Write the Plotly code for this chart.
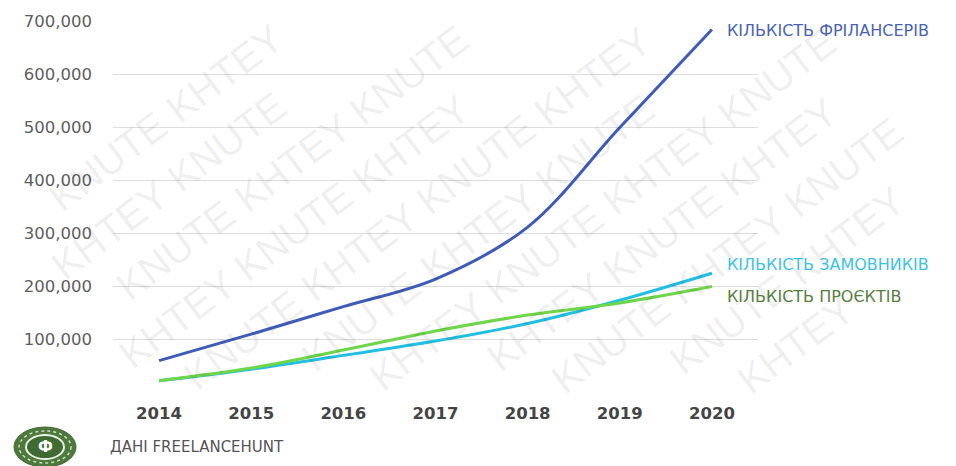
import math
import plotly.graph_objects as go

# Years and series values (number of accounts / projects on the platform)
years = ["2014", "2015", "2016", "2017", "2018", "2019", "2020"]
freelancers = [60000, 110000, 162000, 214000, 312000, 500000, 685000]
customers = [22000, 44000, 70000, 97000, 130000, 174000, 225000]
projects = [22000, 46000, 80000, 116000, 146000, 169000, 200000]

series_names = ["КІЛЬКІСТЬ ФРІЛАНСЕРІВ", "КІЛЬКІСТЬ ЗАМОВНИКІВ", "КІЛЬКІСТЬ ПРОЄКТІВ"]
y_ticks = [100000, 200000, 300000, 400000, 500000, 600000, 700000]
source_text = "ДАНІ FREELANCEHUNT"
watermark_words = ["KHTEY", "KNUTE"]

line_colors = ["#3f5bb8", "#22bfe2", "#6fd64a"]
label_colors = ["#4a63b3", "#3cc3e3", "#567f3e"]
label_shifts = [-1, 9, -10]

W, H = 956, 466
L, R, T, B = 113, 198, 21, 73
FONT = "DejaVu Sans"
pw, ph = W - L - R, H - T - B


def px(x):
    return (x - L) / pw


def py(y):
    return ((H - B) - y) / ph


fig = go.Figure()
for vals, name, col in zip([freelancers, customers, projects], series_names, line_colors):
    fig.add_trace(go.Scatter(
        x=years, y=vals, name=name, mode="lines",
        line=dict(color=col, width=3, shape="spline", smoothing=1.0),
        hoverinfo="skip",
    ))

annotations = []

# Diagonal repeated watermark, one word per tile, kept inside the canvas
ang = 37.0
ca, sa = math.cos(math.radians(ang)), math.sin(math.radians(ang))
word_w, word_h = 136, 44
pitch, spacing = 146, 56
hx = word_w / 2 * ca + word_h / 2 * sa
hy = word_w / 2 * sa + word_h / 2 * ca
for k in range(-14, 15):
    for j in range(-14, 15):
        cx = 478 + j * pitch * ca + k * spacing * sa + (k % 2) * 40 * ca
        cy = 233 - j * pitch * sa + k * spacing * ca - (k % 2) * 40 * sa
        if cx - hx < 0 or cx + hx > W or cy - hy < 0 or cy + hy > H:
            continue
        annotations.append(dict(
            x=px(cx), y=py(cy), xref="paper", yref="paper",
            text=watermark_words[(j + k) % 2], showarrow=False, textangle=-ang,
            xanchor="center", yanchor="middle",
            font=dict(family="Liberation Sans", size=40, color="rgba(0,0,0,0.075)"),
        ))

# End-of-line series labels (x given as the category index of the last year)
for vals, name, col, dy in zip([freelancers, customers, projects], series_names, label_colors, label_shifts):
    annotations.append(dict(
        x=len(years) - 1, y=vals[-1], xref="x", yref="y", text=name, showarrow=False,
        xanchor="left", yanchor="middle", xshift=13, yshift=dy,
        font=dict(family=FONT, size=16, color=col),
    ))

# Source caption next to the badge
annotations.append(dict(
    x=px(108), y=py(447), xref="paper", yref="paper", text=source_text, showarrow=False,
    xanchor="left", yanchor="middle",
    font=dict(family=FONT, size=15, color="#555555"),
))

# Round badge in the lower-left corner
shapes = [
    dict(type="circle", xref="paper", yref="paper", x0=px(14), x1=px(76), y0=py(467), y1=py(427),
         fillcolor="#4d7a3c", line=dict(color="#3f6a31", width=1)),
    dict(type="circle", xref="paper", yref="paper", x0=px(19), x1=px(71), y0=py(463), y1=py(431),
         fillcolor="rgba(0,0,0,0)", line=dict(color="#c9dcc0", width=1.5, dash="dot")),
    dict(type="circle", xref="paper", yref="paper", x0=px(26), x1=px(64), y0=py(459), y1=py(435),
         fillcolor="#3f6a31", line=dict(color="#e8f0e4", width=2)),
]
annotations.append(dict(
    x=px(45), y=py(447), xref="paper", yref="paper", text="<b>Ф</b>", showarrow=False,
    xanchor="center", yanchor="middle", font=dict(family=FONT, size=15, color="#ffffff"),
))

fig.update_layout(
    width=W, height=H,
    margin=dict(l=L, r=R, t=T, b=B, pad=0),
    paper_bgcolor="white", plot_bgcolor="white",
    showlegend=False,
    xaxis=dict(
        type="category", range=[-0.5, 6.5], showgrid=False, zeroline=False,
        showline=False, ticks="", ticklabelstandoff=8,
        tickfont=dict(family=FONT, size=16.5, color="#444444", weight="bold"),
    ),
    yaxis=dict(
        range=[-1000, 701000], tickvals=[0] + y_ticks,
        ticktext=[""] + [f"{v:,}" for v in y_ticks],
        showgrid=True, gridcolor="#dddddd", gridwidth=1, zeroline=False,
        showline=False, ticks="", ticklabelstandoff=20,
        tickfont=dict(family=FONT, size=16.5, color="#5e5e5e"),
    ),
    annotations=annotations,
    shapes=shapes,
)

fig.write_html("out.html")
